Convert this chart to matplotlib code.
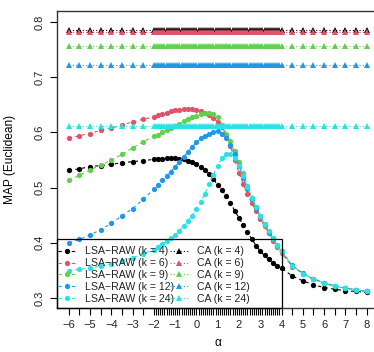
import numpy as np
import matplotlib
matplotlib.use("Agg")
import matplotlib.pyplot as plt
from matplotlib.lines import Line2D
from matplotlib.patches import Rectangle

plt.rcParams['font.family'] = ['Liberation Sans', 'DejaVu Sans']

# ---------------- data ----------------
ks = [4, 6, 9, 12, 24]
colors = ["#000000", "#DF536B", "#61D04F", "#2297E6", "#28E2E5"]

alpha_lsa = ([-6, -5.5, -5, -4.5, -4, -3.5, -3, -2.5]
             + [round(-2 + 0.2 * i, 1) for i in range(31)]
             + [4.5, 5, 5.5, 6, 6.5, 7, 7.5, 8])
alpha_ca = ([-6, -5.5, -5, -4.5, -4, -3.5, -3, -2.5]
            + [round(-2 + 0.1 * i, 1) for i in range(61)]
            + [4.5, 5, 5.5, 6, 6.5, 7, 7.5, 8])

lsa_k4 = [.531, .534, .538, .540, .542, .545, .547, .549,
          .551, .552, .552, .553, .553, .553, .552, .551, .549, .546,
          .542, .537, .531, .524, .515, .505, .495, .485, .472, .458,
          .445, .432, .420, .407, .395, .385, .377, .370, .363, .358, .354,
          .340, .331, .324, .319, .316, .313, .312, .310]
lsa_k6 = [.589, .594, .598, .604, .608, .613, .619, .624,
          .628, .631, .634, .636, .638, .640, .641, .642, .642, .642,
          .641, .639, .636, .632, .626, .619, .610, .595, .575, .550,
          .527, .506, .488, .472, .457, .443, .430, .417, .404, .392, .381,
          .357, .344, .334, .327, .321, .318, .315, .312]
lsa_k9 = [.514, .522, .532, .541, .550, .560, .572, .583,
          .593, .596, .600, .604, .608, .612, .616, .620, .624, .627,
          .630, .633, .635, .635, .633, .627, .614, .598, .584, .566,
          .547, .527, .503, .482, .464, .448, .433, .419, .407, .395, .384,
          .358, .344, .334, .327, .321, .318, .315, .312]
lsa_k12 = [.400, .406, .414, .424, .435, .449, .462, .479,
           .497, .505, .513, .521, .529, .538, .547, .556, .565, .574,
           .582, .589, .594, .598, .601, .602, .598, .589, .577, .561,
           .540, .518, .498, .479, .463, .448, .434, .420, .408, .396, .385,
           .359, .345, .335, .328, .322, .318, .315, .312]
lsa_k24 = [.349, .352, .354, .358, .362, .367, .373, .380,
           .387, .392, .397, .403, .409, .415, .422, .430, .439, .449,
           .461, .474, .489, .506, .523, .540, .553, .560, .560, .553,
           .539, .521, .501, .482, .465, .449, .434, .421, .408, .396, .385,
           .358, .344, .334, .327, .321, .318, .315, .312]
lsa_values = [lsa_k4, lsa_k6, lsa_k9, lsa_k12, lsa_k24]

ca_levels = [0.7855, 0.781, 0.7565, 0.722, 0.6115]

# ---------------- figure ----------------
W, H = 374, 352
fig = plt.figure(figsize=(W / 100, H / 100), dpi=100)
ax_l, ax_r, ax_t, ax_b = 56.8, 378.6, 11.0, 308.0
ax = fig.add_axes([ax_l / W, 1 - ax_b / H, (ax_r - ax_l) / W, (ax_b - ax_t) / H])

ms_c = 3.8
ms_t = 4.5
lw = 0.8
for k, col, vals in zip(ks, colors, lsa_values):
    ax.plot(alpha_lsa, vals, linestyle=(0, (3, 3)), color=col, lw=lw,
            marker='o', ms=ms_c, mec=col, mfc=col, mew=0)
for k, col, lev in zip(ks, colors, ca_levels):
    ax.plot(alpha_ca, np.full(len(alpha_ca), lev), linestyle=(0, (1, 2)),
            color=col, lw=lw, marker='^', ms=ms_t, mec=col, mfc=col, mew=0)

ax.set_xlim(-6.56, 8.56)
ax.set_ylim(0.8 - (ax_b - 22) / 552, 0.8 + (22 - ax_t) / 552)

ax.set_xticks(alpha_ca)
ax.set_xticklabels([("\u2212%d" % -a if a < 0 else "%d" % a) if float(a).is_integer() else ""
                    for a in alpha_ca])
ax.set_yticks([0.3, 0.4, 0.5, 0.6, 0.7, 0.8])
ax.set_yticklabels(["0.3", "0.4", "0.5", "0.6", "0.7", "0.8"], rotation=90, va='center')
ax.tick_params(axis='both', direction='out', length=5, width=0.8, labelsize=8.0,
               color='black', labelcolor='#222222')
ax.tick_params(axis='x', pad=4)
ax.tick_params(axis='y', pad=4)
for s in ax.spines.values():
    s.set_linewidth(1.0)
    s.set_color('#333333')

ax.set_ylabel("MAP (Euclidean)", fontsize=8.6)
ax.yaxis.set_label_coords((16 - ax_l) / (ax_r - ax_l), 0.5)
ax.set_xlabel("\u03b1", fontsize=8.6, va='center')
ax.xaxis.set_label_coords(0.5, (ax_b - 343) / (ax_b - ax_t))

# legend frame (R style, transparent)
fw = (282 - ax_l) / (ax_r - ax_l)
fh = (ax_b - 239) / (ax_b - ax_t)
ax.add_patch(Rectangle((0, 0), fw, fh, transform=ax.transAxes, fill=False,
                       edgecolor='black', lw=0.9, zorder=5, clip_on=False))

h1 = [Line2D([], [], color=c, lw=lw, linestyle=(0, (3, 3)), marker='o', ms=ms_c, mew=0)
      for c in colors]
h2 = [Line2D([], [], color=c, lw=lw, linestyle=(0, (1, 2)), marker='^', ms=ms_t, mew=0)
      for c in colors]
lab1 = ["LSA\u2212RAW (k = %d)" % k for k in ks]
lab2 = ["CA (k = %d)" % k for k in ks]
common = dict(frameon=False, fontsize=7.6, borderpad=0, borderaxespad=0,
              handlelength=1.75, handletextpad=0.85, labelspacing=0.17,
              loc='upper left', labelcolor='#222222')
top_y = (ax_b - 246.5) / (ax_b - ax_t)
leg1 = ax.legend(h1, lab1, bbox_to_anchor=((58 - ax_l) / (ax_r - ax_l), top_y), **common)
ax.add_artist(leg1)
leg2 = ax.legend(h2, lab2, bbox_to_anchor=((170 - ax_l) / (ax_r - ax_l), top_y), **common)

fig.savefig("out.png", dpi=100)
